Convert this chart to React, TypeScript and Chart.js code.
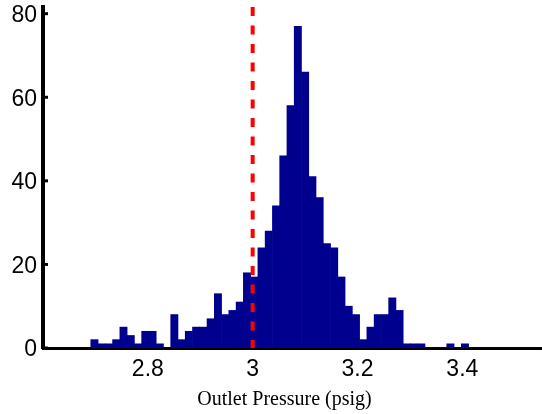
import React, { useEffect, useRef } from "react";
import { Chart, registerables } from "chart.js";

Chart.register(...registerables);

// Histogram definition (bin edges) and counts
const BIN_START = 2.6912;
const BIN_WIDTH = 0.01386;
const COUNTS = [
  2, 1, 1, 2, 5, 3, 1, 4, 4, 1,
  0, 8, 2, 4, 5, 5, 7, 13, 8, 9,
  11, 18, 17, 24, 28, 34, 46, 58, 77, 66,
  41, 36, 25, 24, 17, 10, 8, 2, 5, 8,
  8, 12, 9, 1, 1, 1, 0, 0, 0, 1,
  0, 1, 0, 0, 0, 0, 0, 0, 0, 0,
  0, 0,
];
const X_TICKS = [2.8, 3.0, 3.2, 3.4];
const X_TICK_LABELS = ["2.8", "3", "3.2", "3.4"];
const Y_TICKS = [0, 20, 40, 60, 80];
const X_MIN = 2.6;
const X_MAX = 3.552;
const Y_MIN = 0;
const Y_MAX = 81.6;
const THRESHOLD = 3.0;
const X_TITLE = "Outlet Pressure (psig)";

const SANS = "'Liberation Sans', Arial, Helvetica, sans-serif";
const SERIF = "'Liberation Serif', 'Times New Roman', serif";

export default function App() {
  const ref = useRef<HTMLCanvasElement | null>(null);

  useEffect(() => {
    if (!ref.current) return;
    const barData = COUNTS.map((c, i) => ({ x: BIN_START + (i + 0.5) * BIN_WIDTH, y: c }));
    const lineData = [
      { x: THRESHOLD, y: Y_MAX },
      { x: THRESHOLD, y: Y_MIN },
    ];

    const extras = {
      id: "extras",
      afterDraw(chart: any) {
        const { ctx, chartArea, scales } = chart;
        ctx.save();
        // inward y ticks
        ctx.strokeStyle = "#000";
        ctx.lineWidth = 3;
        Y_TICKS.forEach((v) => {
          const py = scales.y.getPixelForValue(v);
          ctx.beginPath();
          ctx.moveTo(chartArea.left, py);
          ctx.lineTo(chartArea.left + 5, py);
          ctx.stroke();
        });
        // axis title
        ctx.fillStyle = "#000";
        ctx.font = `20px ${SERIF}`;
        ctx.textAlign = "center";
        ctx.textBaseline = "alphabetic";
        ctx.fillText(X_TITLE, (chartArea.left + chartArea.right) / 2 - 8, 405);
        ctx.restore();
      },
    };

    const chart = new Chart(ref.current, {
      type: "bar",
      data: {
        datasets: [
          {
            type: "line",
            data: lineData,
            borderColor: "#ff0000",
            borderWidth: 4,
            borderDash: [9, 9.5],
            pointRadius: 0,
            order: 0,
          } as any,
          {
            type: "bar",
            data: barData,
            backgroundColor: "#00008f",
            borderWidth: 0,
            barPercentage: 1,
            categoryPercentage: 1,
            order: 1,
          } as any,
        ],
      },
      options: {
        animation: false,
        responsive: false,
        maintainAspectRatio: false,
        devicePixelRatio: 1,
        layout: { padding: { top: 7, left: 0, right: 0, bottom: 0 } },
        plugins: { legend: { display: false }, tooltip: { enabled: false }, title: { display: false } },
        scales: {
          x: {
            type: "linear",
            min: X_MIN,
            max: X_MAX,
            offset: false,
            grid: { display: false, drawTicks: false },
            border: { display: true, color: "#000", width: 3 },
            afterBuildTicks(scale: any) {
              scale.ticks = X_TICKS.map((v) => ({ value: v }));
            },
            afterFit(scale: any) {
              scale.height = 66;
              scale.paddingLeft = 0;
              scale.paddingRight = 0;
            },
            ticks: {
              autoSkip: false,
              maxRotation: 0,
              padding: 8,
              color: "#000",
              font: { family: SANS, size: 23 },
              callback: (_v: any, i: number) => X_TICK_LABELS[i],
            },
          },
          y: {
            type: "linear",
            min: Y_MIN,
            max: Y_MAX,
            grid: { display: false, drawTicks: false },
            border: { display: true, color: "#000", width: 4 },
            afterBuildTicks(scale: any) {
              scale.ticks = Y_TICKS.map((v) => ({ value: v }));
            },
            afterFit(scale: any) {
              scale.width = 43;
              scale.paddingTop = 0;
              scale.paddingBottom = 0;
            },
            ticks: {
              padding: 6,
              labelOffset: 2,
              color: "#000",
              font: { family: SANS, size: 23 },
            },
          },
        },
      },
      plugins: [extras],
    } as any);

    return () => chart.destroy();
  }, []);

  return (
    <div style={{ position: "absolute", left: 0, top: 0, width: 542, height: 414 }}>
      <canvas ref={ref} width={542} height={414} style={{ display: "block", width: 542, height: 414 }} />
    </div>
  );
}
